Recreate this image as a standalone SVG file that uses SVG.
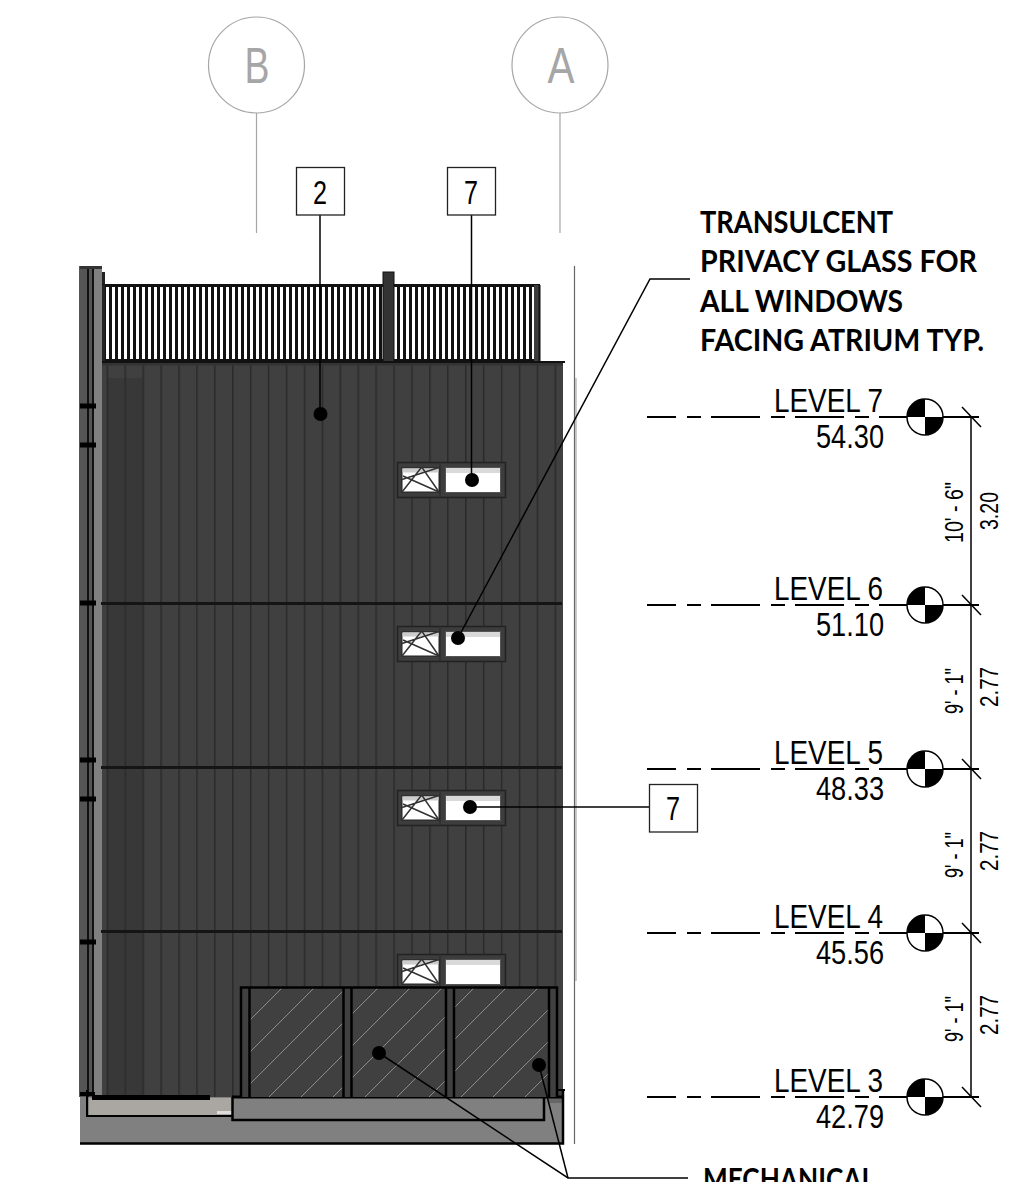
<svg xmlns="http://www.w3.org/2000/svg" width="1013" height="1182" viewBox="0 0 1013 1182">
<style>
.t{font-family:"Liberation Sans",Arial,sans-serif;fill:#000}
.lv{font-size:33px}
.dm{font-size:25px}
.tag{font-size:33px;text-anchor:middle}
.b{font-family:Lato,"Liberation Sans",sans-serif;font-size:30px;font-weight:700}
.gr{font-size:50px;fill:#a6a6a6;text-anchor:middle}
.bub{fill:#fff;stroke:#a6a6a6;stroke-width:1.2}
.grl{stroke:#a6a6a6;stroke-width:1.2;fill:none}
.box{fill:#fff;stroke:#222;stroke-width:1.3}
.ld{stroke:#000;stroke-width:1.5;fill:none}
.dot{fill:#000}
.lvl{stroke:#000;stroke-width:2;fill:none;stroke-dasharray:29 11 14 10 49 11 14 10 49 11 14 10 100}
.s{stroke:#000;fill:none}
</style>
<defs>
<pattern id="rail" patternUnits="userSpaceOnUse" x="106" y="0" width="6" height="10">
<rect width="6" height="10" fill="#111"/><rect x="0" width="3" height="10" fill="#fff"/>
</pattern>
<pattern id="clad" patternUnits="userSpaceOnUse" x="106.6" y="0" width="17.92" height="10">
<rect width="17.92" height="10" fill="none"/><rect width="1.5" height="10" fill="#2a2a2a"/>
</pattern>
<pattern id="hatch" patternUnits="userSpaceOnUse" width="32" height="32" patternTransform="translate(22 0)">
<line x1="-2" y1="34" x2="34" y2="-2" stroke="#8a8a8a" stroke-width="1"/>
</pattern>
<g id="win">
<rect x="0.5" y="0.5" width="108" height="35" fill="#3d3d3d" stroke="#222" stroke-width="1.5"/>
<line x1="43" y1="0" x2="43" y2="35" stroke="#2e2e2e" stroke-width="1.5"/>
<rect x="5" y="6" width="37" height="24" fill="#fff" stroke="#222"/>
<rect x="5.500" y="6.500" width="36" height="4" fill="#ccc"/>
<path d="M5 30 L24.700 5 L42 30 M5 17.500 L42 5.500 M6 14 L42 30" stroke="#333" stroke-width="1.500" fill="none"/>
<rect x="48.500" y="5.500" width="55" height="25" fill="#fff" stroke="#555"/>
<rect x="49" y="6" width="54" height="5" fill="#d9d9d9"/>
</g>
</defs>

<g id="grid-bubbles">
<g id="grid-B"><circle class="bub" cx="256.500" cy="65" r="48"/><text class="t gr" x="257" y="83" textLength="25" lengthAdjust="spacingAndGlyphs">B</text><line class="grl" x1="256.500" y1="113" x2="256.500" y2="233"/></g>
<g id="grid-A"><circle class="bub" cx="560" cy="65" r="48"/><text class="t gr" x="561" y="83" textLength="27" lengthAdjust="spacingAndGlyphs">A</text><line class="grl" x1="560" y1="113" x2="560" y2="233"/></g>
</g>

<g id="elevation">
<rect x="79" y="266" width="8" height="831" fill="#555"/>
<rect x="87" y="266" width="7" height="831" fill="#111"/>
<rect x="89" y="266" width="3" height="831" fill="#555"/>
<rect x="94" y="266" width="8" height="831" fill="#808080"/>
<rect x="102" y="272" width="3" height="14" fill="#222"/>
<rect x="80" y="266" width="22" height="3" fill="#333"/>
<rect x="102" y="285" width="438" height="77" fill="url(#rail)"/>
<rect x="102" y="284" width="438" height="3" fill="#111"/>
<rect x="102" y="359" width="438" height="3" fill="#111"/>
<rect x="534" y="285" width="6" height="76" fill="#3c3c3c"/>
<rect x="538.500" y="285" width="2" height="77" fill="#111"/>
<rect x="102" y="285" width="3" height="77" fill="#222"/>
<rect x="383" y="272" width="11" height="90" fill="#333" stroke="#111" stroke-width="1"/>
<rect x="102" y="362" width="461" height="735" fill="#404040"/>
<rect x="107" y="378" width="36" height="719" fill="#383838"/>
<rect x="102" y="362" width="461" height="735" fill="url(#clad)"/>
<rect x="102" y="361" width="463" height="2" fill="#111"/>
<rect x="102" y="363" width="461" height="2.500" fill="#333"/>
<rect x="101" y="602" width="461" height="3" fill="#151515"/>
<rect x="101" y="766" width="461" height="3" fill="#151515"/>
<rect x="101" y="930" width="461" height="3" fill="#151515"/>
<path d="M80 406H96M80 445H96M80 603H96M80 760H96M80 799H96M80 942H96" stroke="#000" stroke-width="5"/>
<rect x="574" y="378" width="3" height="603" fill="#ccc"/>
<line x1="574.500" y1="266" x2="574.500" y2="1144" stroke="#666" stroke-width="1.200"/>
</g>

<g id="windows">
<use href="#win" x="397" y="462"/>
<use href="#win" x="397" y="626"/>
<use href="#win" x="397" y="790"/>
<use href="#win" x="397" y="954"/>
</g>

<g id="base">
<rect x="80" y="1097" width="483" height="47" fill="#808080"/>
<rect x="89" y="1098" width="143" height="18" fill="#aaa7a3"/>
<rect x="217" y="1111" width="15" height="3" fill="#ddd"/>
<rect x="548" y="1097" width="14" height="6" fill="#666"/>
<path class="s" stroke-width="2" d="M87 1090V1116H232"/>
<rect x="92" y="1095" width="118" height="5" fill="#000"/>
<rect x="80" y="1092" width="15" height="4" fill="#000"/>
<path class="s" stroke-width="2.500" d="M232.500 1097V1120H544V1097"/>
<path class="s" stroke-width="3" d="M232 1097H563"/>
<path class="s" stroke-width="2.500" d="M563 1090V1143.500H80"/>
<path class="s" stroke-width="2" d="M537 1096V1090H565"/>
</g>

<g id="mechanical">
<rect x="241" y="987" width="316" height="110" fill="#404040"/>
<rect x="250" y="988" width="93" height="109" fill="url(#hatch)"/>
<rect x="352" y="988" width="94" height="109" fill="url(#hatch)"/>
<rect x="454" y="988" width="95" height="109" fill="url(#hatch)"/>
<path class="s" stroke-width="2.500" d="M241 1097V987.500H557V1097M249.500 988V1097M343.500 988V1097M351.500 988V1097M446 988V1097M454 988V1097M549 988V1097"/>
</g>

<g id="connectors">
<line class="ld" x1="320" y1="215" x2="320" y2="414"/><circle class="dot" cx="320.500" cy="414" r="7"/>
<line class="ld" x1="471.500" y1="215" x2="471.500" y2="480"/><circle class="dot" cx="472" cy="480" r="7"/>
<polyline class="ld" points="458,638 650,279 690,279"/><circle class="dot" cx="458" cy="638" r="7"/>
<line class="ld" x1="470" y1="807" x2="649" y2="807"/><circle class="dot" cx="470" cy="807" r="7"/>
<polyline class="ld" points="379,1053 568,1178 688,1178"/><circle class="dot" cx="379" cy="1053" r="7"/>
<line class="ld" x1="539" y1="1065" x2="568" y2="1178"/><circle class="dot" cx="539" cy="1065" r="7"/>
</g>

<g id="tag-2"><rect class="box" x="296.500" y="167.500" width="48" height="47.500"/><text class="t tag" x="320" y="204" textLength="14" lengthAdjust="spacingAndGlyphs">2</text></g>
<g id="tag-7a"><rect class="box" x="447.500" y="167.500" width="48" height="47.500"/><text class="t tag" x="471" y="204" textLength="14" lengthAdjust="spacingAndGlyphs">7</text></g>
<g id="tag-7b"><rect class="box" x="649.500" y="784.500" width="48" height="47.500"/><text class="t tag" x="673" y="820" textLength="14" lengthAdjust="spacingAndGlyphs">7</text></g>

<g id="note-glass">
<text class="t b" x="700" y="233" textLength="193" lengthAdjust="spacingAndGlyphs">TRANSULCENT</text>
<text class="t b" x="700" y="272" textLength="277" lengthAdjust="spacingAndGlyphs">PRIVACY GLASS FOR</text>
<text class="t b" x="700" y="312" textLength="203" lengthAdjust="spacingAndGlyphs">ALL WINDOWS</text>
<text class="t b" x="700" y="351" textLength="284" lengthAdjust="spacingAndGlyphs">FACING ATRIUM TYP.</text>
</g>
<g id="note-mech"><text class="t b" x="703" y="1190" textLength="172" lengthAdjust="spacingAndGlyphs">MECHANICAL</text></g>

<g id="level-7">
<line class="lvl" x1="647" y1="417" x2="984" y2="417"/>
<circle cx="925" cy="417" r="18" fill="#fff" stroke="#000" stroke-width="1.500"/><path d="M925 417V399A18 18 0 0 0 907 417ZM925 417V435A18 18 0 0 0 943 417Z"/>
<line class="s" stroke-width="1.500" x1="962" y1="407" x2="981" y2="427"/>
<text class="t lv" x="774" y="412" textLength="109" lengthAdjust="spacingAndGlyphs">LEVEL 7</text>
<text class="t lv" x="816" y="448" textLength="68" lengthAdjust="spacingAndGlyphs">54.30</text>
</g>
<g id="level-6">
<line class="lvl" x1="647" y1="605" x2="984" y2="605"/>
<circle cx="925" cy="605" r="18" fill="#fff" stroke="#000" stroke-width="1.500"/><path d="M925 605V587A18 18 0 0 0 907 605ZM925 605V623A18 18 0 0 0 943 605Z"/>
<line class="s" stroke-width="1.500" x1="962" y1="595" x2="981" y2="615"/>
<text class="t lv" x="774" y="600" textLength="109" lengthAdjust="spacingAndGlyphs">LEVEL 6</text>
<text class="t lv" x="816" y="636" textLength="68" lengthAdjust="spacingAndGlyphs">51.10</text>
</g>
<g id="level-5">
<line class="lvl" x1="647" y1="769" x2="984" y2="769"/>
<circle cx="925" cy="769" r="18" fill="#fff" stroke="#000" stroke-width="1.500"/><path d="M925 769V751A18 18 0 0 0 907 769ZM925 769V787A18 18 0 0 0 943 769Z"/>
<line class="s" stroke-width="1.500" x1="962" y1="759" x2="981" y2="779"/>
<text class="t lv" x="774" y="764" textLength="109" lengthAdjust="spacingAndGlyphs">LEVEL 5</text>
<text class="t lv" x="816" y="800" textLength="68" lengthAdjust="spacingAndGlyphs">48.33</text>
</g>
<g id="level-4">
<line class="lvl" x1="647" y1="933" x2="984" y2="933"/>
<circle cx="925" cy="933" r="18" fill="#fff" stroke="#000" stroke-width="1.500"/><path d="M925 933V915A18 18 0 0 0 907 933ZM925 933V951A18 18 0 0 0 943 933Z"/>
<line class="s" stroke-width="1.500" x1="962" y1="923" x2="981" y2="943"/>
<text class="t lv" x="774" y="928" textLength="109" lengthAdjust="spacingAndGlyphs">LEVEL 4</text>
<text class="t lv" x="816" y="964" textLength="68" lengthAdjust="spacingAndGlyphs">45.56</text>
</g>
<g id="level-3">
<line class="lvl" x1="647" y1="1097" x2="984" y2="1097"/>
<circle cx="925" cy="1097" r="18" fill="#fff" stroke="#000" stroke-width="1.500"/><path d="M925 1097V1079A18 18 0 0 0 907 1097ZM925 1097V1115A18 18 0 0 0 943 1097Z"/>
<line class="s" stroke-width="1.500" x1="962" y1="1087" x2="981" y2="1107"/>
<text class="t lv" x="774" y="1092" textLength="109" lengthAdjust="spacingAndGlyphs">LEVEL 3</text>
<text class="t lv" x="816" y="1128" textLength="68" lengthAdjust="spacingAndGlyphs">42.79</text>
</g>

<g id="dimensions">
<line class="s" stroke-width="1.500" x1="971" y1="417" x2="971" y2="1097"/>
<text class="t dm" transform="translate(963 543) rotate(-90)" textLength="61" lengthAdjust="spacingAndGlyphs">10' - 6"</text>
<text class="t dm" transform="translate(998 530) rotate(-90)" textLength="38" lengthAdjust="spacingAndGlyphs">3.20</text>
<text class="t dm" transform="translate(963 714) rotate(-90)" textLength="46" lengthAdjust="spacingAndGlyphs">9' - 1"</text>
<text class="t dm" transform="translate(998 707) rotate(-90)" textLength="40" lengthAdjust="spacingAndGlyphs">2.77</text>
<text class="t dm" transform="translate(963 878) rotate(-90)" textLength="46" lengthAdjust="spacingAndGlyphs">9' - 1"</text>
<text class="t dm" transform="translate(998 871) rotate(-90)" textLength="40" lengthAdjust="spacingAndGlyphs">2.77</text>
<text class="t dm" transform="translate(963 1042) rotate(-90)" textLength="46" lengthAdjust="spacingAndGlyphs">9' - 1"</text>
<text class="t dm" transform="translate(998 1035) rotate(-90)" textLength="40" lengthAdjust="spacingAndGlyphs">2.77</text>
</g>
</svg>
